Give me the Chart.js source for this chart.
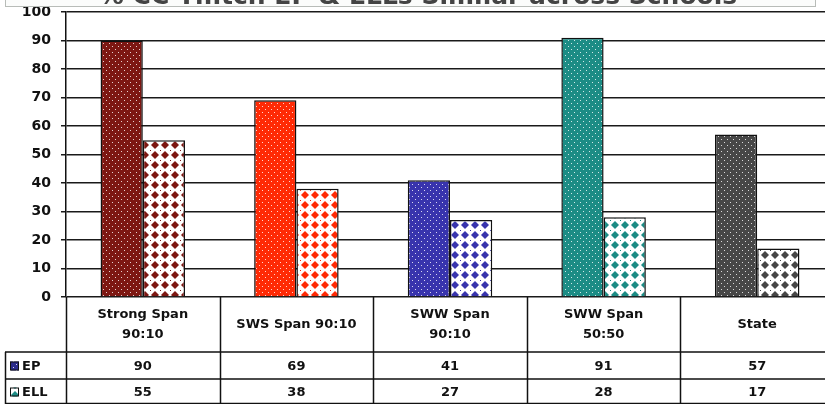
<!DOCTYPE html>
<html>
<head>
<meta charset="utf-8">
<script src="https://cdn.jsdelivr.net/npm/chart.js@4"></script>
<style>
  html, body { margin: 0; padding: 0; background: #fff; overflow: hidden; }
  canvas { display: block; }
</style>
</head>
<body>
<canvas id="myChart" width="834" height="404" style="width:834px;height:404px"></canvas>
<script>
const titleText = '% CC Tmtch EP & ELLs Similar across Schools';
const categories = [['Strong Span', '90:10'], ['SWS Span 90:10'], ['SWW Span', '90:10'], ['SWW Span', '50:50'], ['State']];
const seriesNames = ['EP', 'ELL'];
const epValues = [90, 69, 41, 91, 57];
const ellValues = [55, 38, 27, 28, 17];
const yTicks = [0, 10, 20, 30, 40, 50, 60, 70, 80, 90, 100];

// one colour per school, used by both series
const schoolColors = ['#7d1712', '#ff2a05', '#3834ad', '#1c8c85', '#474747'];
const FONT = 'DejaVu Sans';

function dotPattern(color) {
    const c = document.createElement('canvas');
    c.width = 6; c.height = 6;
    const g = c.getContext('2d');
    g.fillStyle = color;
    g.fillRect(0, 0, 6, 6);
    g.fillStyle = 'rgba(255,255,255,0.8)';
    g.fillRect(1, 1, 1, 1);
    g.fillRect(4, 4, 1, 1);
    return g.createPattern(c, 'repeat');
}

function diamondPattern(color) {
    const c = document.createElement('canvas');
    c.width = 10; c.height = 10;
    const g = c.getContext('2d');
    g.fillStyle = '#fff';
    g.fillRect(0, 0, 10, 10);
    g.fillStyle = color;
    g.beginPath();
    g.moveTo(5, 1); g.lineTo(9, 5); g.lineTo(5, 9); g.lineTo(1, 5);
    g.closePath();
    g.fill();
    g.fillRect(0, 0, 1, 1);
    return g.createPattern(c, 'repeat');
}

const epFills = schoolColors.map(dotPattern);
const ellFills = schoolColors.map(diamondPattern);

// title box (cut off at the top) and the data table under the plot
const tablePlugin = {
    id: 'tablePlugin',
    afterDraw(chart) {
        const g = chart.ctx;
        const area = chart.chartArea;
        const xs = chart.scales.x;
        const left = area.left;
        const colW = (area.right - area.left) / categories.length;
        const top = area.bottom;
        const row1 = 352, row2 = 379, bottom = 404;

        g.save();
        // title
        g.fillStyle = '#fbfcfb';
        g.fillRect(5, -10, 810, 17);
        g.strokeStyle = '#b8bcb8';
        g.lineWidth = 1;
        g.strokeRect(5.5, -10, 810, 16.5);
        g.beginPath();
        g.rect(5, 0, 810, 6);
        g.clip();
        g.fillStyle = '#444';
        g.font = 'bold 25px ' + FONT;
        g.textAlign = 'center';
        g.textBaseline = 'alphabetic';
        g.fillText(titleText, 418, 4);
        g.restore();

        g.save();
        g.strokeStyle = '#111';
        g.lineWidth = 1.5;
        g.beginPath();
        for (let i = 0; i <= categories.length; i++) {
            const x = Math.round(left + i * colW) + 0.5;
            g.moveTo(x, top);
            g.lineTo(x, bottom);
        }
        g.moveTo(5.5, row1); g.lineTo(5.5, bottom);
        g.moveTo(5, row1); g.lineTo(area.right, row1);
        g.moveTo(5, row2); g.lineTo(area.right, row2);
        g.moveTo(5, bottom - 0.5); g.lineTo(area.right, bottom - 0.5);
        g.stroke();

        g.fillStyle = '#111';
        g.font = 'bold 13px ' + FONT;
        g.textAlign = 'center';
        g.textBaseline = 'middle';
        categories.forEach((lines, i) => {
            const cx = xs.getPixelForValue(i);
            const midY = (top + row1) / 2;
            lines.forEach((t, j) => {
                g.fillText(t, cx, midY + (j - (lines.length - 1) / 2) * 20);
            });
            g.fillText(String(epValues[i]), cx, (row1 + row2) / 2 + 1);
            g.fillText(String(ellValues[i]), cx, (row2 + bottom) / 2 + 1);
        });

        // legend keys
        const keys = [dotPattern('#2a2a8a'), diamondPattern('#1c8c85')];
        const rowsY = [(row1 + row2) / 2, (row2 + bottom) / 2];
        seriesNames.forEach((name, k) => {
            g.fillStyle = keys[k];
            g.fillRect(10, rowsY[k] - 4, 9, 9);
            g.strokeStyle = '#111';
            g.lineWidth = 1;
            g.strokeRect(10.5, rowsY[k] - 3.5, 8, 8);
            g.fillStyle = '#111';
            g.textAlign = 'left';
            g.fillText(name, 22, rowsY[k] + 1);
        });
        g.restore();
    }
};

const ctx = document.getElementById('myChart').getContext('2d');
const myChart = new Chart(ctx, {
    type: 'bar',
    data: {
        labels: categories.map(c => c.join(' ')),
        datasets: [{
                label: seriesNames[0],
                data: epValues,
                backgroundColor: epFills,
                borderColor: '#111',
                borderWidth: 1.5,
            },
            {
                label: seriesNames[1],
                data: ellValues,
                backgroundColor: ellFills,
                borderColor: '#111',
                borderWidth: 1.5,
            }
        ]
    },
    options: {
        responsive: false,
        maintainAspectRatio: false,
        animation: false,
        events: [],
        layout: { padding: { top: 12, bottom: 107, right: 0, left: 0 } },
        datasets: { bar: { categoryPercentage: 0.55, barPercentage: 1.0 } },
        plugins: {
            legend: { display: false },
            tooltip: { enabled: false },
            title: { display: false }
        },
        scales: {
            x: {
                display: false,
                offset: true,
                grid: { display: false }
            },
            y: {
                min: 0,
                max: 100,
                afterBuildTicks(scale) {
                    scale.ticks = yTicks.map(v => ({ value: v }));
                },
                afterFit(scale) {
                    scale.width = 66;
                    scale.paddingTop = 0;
                    scale.paddingBottom = 0;
                },
                grid: {
                    color: '#1a1a1a',
                    lineWidth: 1.5,
                    tickLength: 5,
                    drawTicks: true
                },
                border: { display: true, color: '#111', width: 1.5 },
                ticks: {
                    color: '#111',
                    padding: 10,
                    font: { family: FONT, size: 14, weight: 'bold' }
                }
            }
        }
    },
    plugins: [tablePlugin]
});
</script>
</body>
</html>
